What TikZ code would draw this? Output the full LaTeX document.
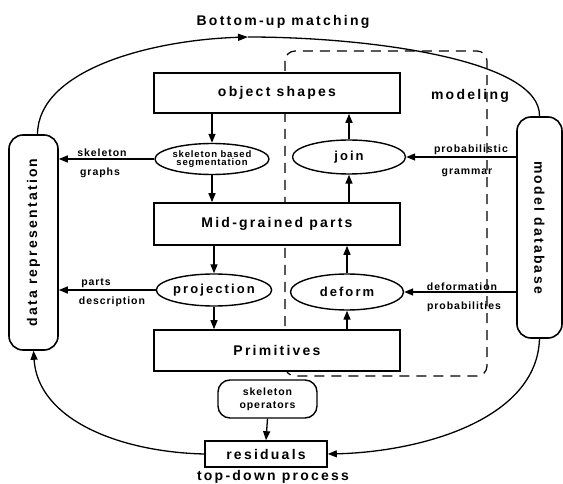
\documentclass[tikz,border=0pt]{standalone}
\usepackage{fontspec}
\usetikzlibrary{arrows.meta,shapes.geometric}
\newfontfamily\fBig[LetterSpace=16]{Liberation Sans}
\newfontfamily\fSm[LetterSpace=9]{Liberation Sans}
\newcommand\tBig{\fBig\bfseries\fontsize{14}{16}\selectfont}
\newcommand\tMid{\fBig\bfseries\fontsize{13}{15}\selectfont}
\newcommand\tSm{\fSm\bfseries\fontsize{10.5}{12}\selectfont}
\newcommand\tTiny{\fSm\bfseries\fontsize{9.5}{10}\selectfont}
\begin{document}
\begin{tikzpicture}[x=1pt,y=-1pt,
  box/.style={draw,line width=1.6pt,fill=white,minimum width=246pt,inner sep=0pt,font=\tBig},
  ell/.style={draw,ellipse,line width=1.4pt,fill=white,inner sep=0pt,font=\tMid},
  side/.style={draw,rounded corners=14pt,line width=1.6pt,fill=white,inner sep=0pt,font=\tBig},
  arr/.style={line width=1.3pt,-{Triangle[length=9pt,width=7pt]}},
  lbl/.style={font=\tSm,inner sep=0pt},
  flow/.style={line width=1.3pt}]
\useasboundingbox (0,0) rectangle (563,484);
% modeling frame
\draw[dash pattern=on 10pt off 7pt, line width=1.2pt, rounded corners=10pt] (285,51) rectangle (487,376);
% main boxes
\node[box,minimum height=40pt] (obj) at (277,93) {object shapes};
\node[box,minimum height=42pt] (mid) at (277,224) {Mid-grained parts};
\node[box,minimum height=41pt] (prim) at (277,350.5) {Primitives};
% ellipses
\node[ell,minimum width=114pt,minimum height=31pt,font=\tTiny,align=center] (seg) at (212,159) {skeleton based\\[-2pt]segmentation};
\node[ell,minimum width=113pt,minimum height=34pt] (join) at (349,157) {join};
\node[ell,minimum width=112pt,minimum height=32pt] (proj) at (214,290) {projection};
\node[ell,minimum width=113pt,minimum height=36pt] (def) at (347,292) {deform};
% side boxes
\node[side,minimum width=49pt,minimum height=215pt] (drep) at (33.5,242.5) {\rotatebox{90}{data representation}};
\node[side,minimum width=45pt,minimum height=221pt] (mdb) at (539.5,227.5) {\rotatebox{-90}{model database}};
% bottom boxes
\node[draw,rounded corners=12pt,line width=1.4pt,fill=white,minimum width=99pt,minimum height=38pt,inner sep=0pt,font=\tSm,align=center] (sop) at (267.5,399) {skeleton\\[1pt]operators};
\node[draw,line width=1.6pt,fill=white,minimum width=122pt,minimum height=26pt,inner sep=0pt,font=\tBig] (res) at (266,454) {residuals};
% vertical arrows
\draw[arr] (obj.south -| seg.north) -- (seg.north);
\draw[arr] (seg.south) -- (seg.south |- mid.north);
\draw[arr] (mid.south -| proj.north) -- (proj.north);
\draw[arr] (proj.south) -- (proj.south |- prim.north);
\draw[arr] (prim.north -| def.south) -- (def.south);
\draw[arr] (def.north) -- (def.north |- mid.south);
\draw[arr] (mid.north -| join.south) -- (join.south);
\draw[arr] (join.north) -- (join.north |- obj.south);
\draw[arr] (sop.south) -- (res.north);
% horizontal arrows
\draw[arr] (seg.west) -- (seg.west -| drep.east);
\draw[arr] (proj.west) -- (proj.west -| drep.east);
\draw[arr] (mdb.west |- join.east) -- (join.east);
\draw[arr] (mdb.west |- def.east) -- (def.east);
% loops
\draw[flow,-{Triangle[length=10pt,width=7pt]}] ([xshift=4pt]drep.north) .. controls (38,70) and (150,40) .. (248,37) coordinate (peak);
\draw[flow] (peak) .. controls (370,37) and (541,60) .. (mdb.north);
\draw[arr] (res.west) .. controls (120,452) and (38,420) .. (drep.south);
\draw[arr] (mdb.south) .. controls (537,420) and (420,452) .. (res.east);
% labels
\node[font=\tBig] (bu) at (283,22) {Bottom-up matching};
\node[font=\tBig] (td) at (273,477) {top-down process};
\node[font=\tBig] (modl) at (470,96) {modeling};
\node[lbl] (l1) at (102,153) {skeleton};
\node[lbl] (l2) at (100,173) {graphs};
\node[lbl] (l3) at (96,283) {parts};
\node[lbl] (l4) at (112,302) {description};
\node[lbl] (r1) at (471,150) {probabilistic};
\node[lbl] (r2) at (467,173) {grammar};
\node[lbl] (r3) at (462,287) {deformation};
\node[lbl] (r4) at (464,307) {probabilities};
\end{tikzpicture}
\end{document}
